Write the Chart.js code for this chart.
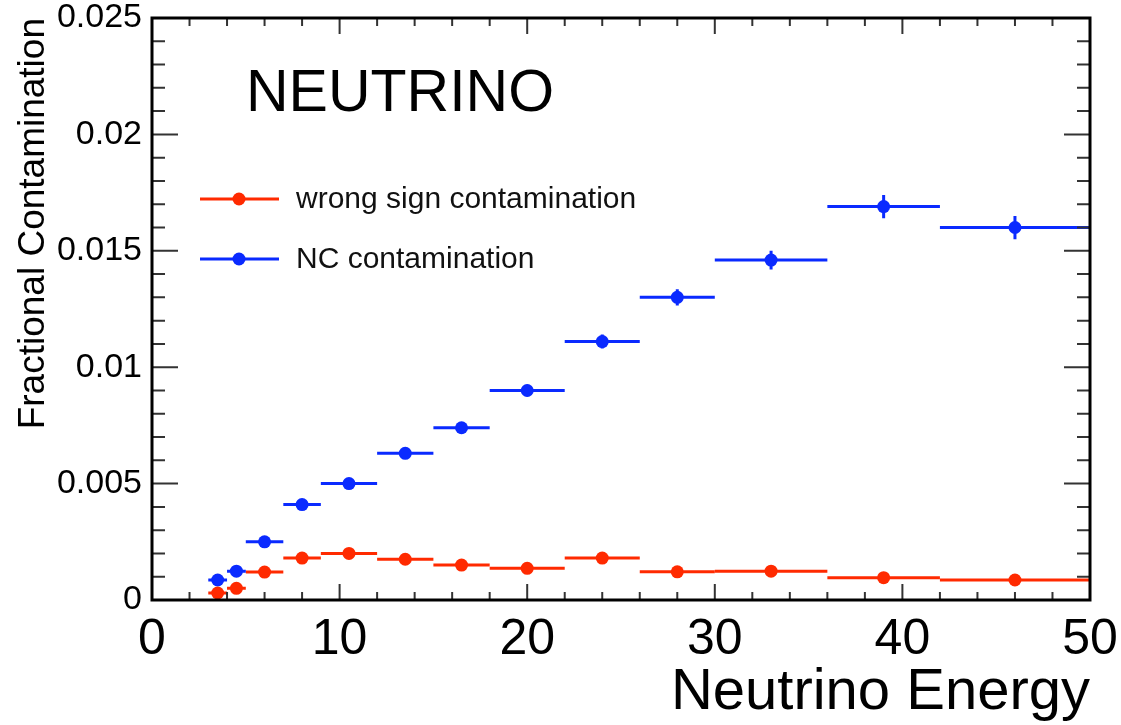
<!DOCTYPE html>
<html>
<head>
<meta charset="utf-8">
<script src="https://cdn.jsdelivr.net/npm/chart.js@4"></script>
<style>
  body { margin: 0; background: #fff; }
  #wrap { width: 1121px; height: 725px; }
</style>
</head>
<body>
<div id="wrap"><canvas id="plot" width="1121" height="725"></canvas></div>
<script>
// bins in neutrino energy
const binLow  = [3, 4, 5, 7, 9, 12, 15, 18, 22, 26, 30, 36, 42];
const binHigh = [4, 5, 7, 9, 12, 15, 18, 22, 26, 30, 36, 42, 50];
const binMid  = [3.5, 4.5, 6, 8, 10.5, 13.5, 16.5, 20, 24, 28, 33, 39, 46];

// wrong sign contamination
const wrongSign    = [0.0003, 0.0005, 0.0012, 0.0018, 0.0020, 0.00175, 0.0015, 0.00136, 0.0018, 0.00121, 0.00124, 0.00096, 0.00086];
const wrongSignErr = [0.0001, 0.0001, 0.0001, 0.0001, 0.0001, 0.0001, 0.0001, 0.0001, 0.0001, 0.0001, 0.0001, 0.0001, 0.0001];

// NC contamination
const ncCont    = [0.00086, 0.00124, 0.0025, 0.0041, 0.0050, 0.0063, 0.0074, 0.0090, 0.0111, 0.0130, 0.0146, 0.0169, 0.0160];
const ncContErr = [0.00015, 0.0002, 0.0002, 0.0002, 0.0002, 0.0002, 0.00025, 0.00025, 0.0003, 0.00035, 0.0004, 0.0005, 0.0005];

const FONT = "'Liberation Sans', Arial, Helvetica, sans-serif";
const RED = '#ff2a00';
const BLUE = '#0a2aff';

function points(vals) {
  return vals.map((v, i) => ({ x: binMid[i], y: v }));
}

// horizontal bin widths + vertical error bars
const errorBars = {
  id: 'errorBars',
  beforeDatasetsDraw(chart) {
    const ctx = chart.ctx;
    const xs = chart.scales.x, ys = chart.scales.y;
    const area = chart.chartArea;
    ctx.save();
    ctx.beginPath();
    ctx.rect(area.left, area.top, area.right - area.left, area.bottom - area.top);
    ctx.clip();
    chart.data.datasets.forEach(ds => {
      ctx.strokeStyle = ds.borderColor;
      ctx.lineWidth = 3;
      ds.data.forEach((p, i) => {
        const y = ys.getPixelForValue(p.y);
        ctx.beginPath();
        ctx.moveTo(xs.getPixelForValue(binLow[i]), y);
        ctx.lineTo(xs.getPixelForValue(binHigh[i]), y);
        const x = xs.getPixelForValue(p.x);
        ctx.moveTo(x, ys.getPixelForValue(p.y - ds.errs[i]));
        ctx.lineTo(x, ys.getPixelForValue(p.y + ds.errs[i]));
        ctx.stroke();
      });
    });
    ctx.restore();
  }
};

// ROOT style frame with ticks inside on all four sides
const frame = {
  id: 'frame',
  afterDraw(chart) {
    const ctx = chart.ctx;
    const xs = chart.scales.x, ys = chart.scales.y;
    const a = chart.chartArea;
    ctx.save();
    ctx.strokeStyle = '#333';
    ctx.lineWidth = 2;
    ctx.beginPath();
    for (let v = 0; v <= 50; v += 2) {
      const x = xs.getPixelForValue(v);
      const len = v % 10 === 0 ? 16 : 8;
      ctx.moveTo(x, a.bottom); ctx.lineTo(x, a.bottom - len);
      ctx.moveTo(x, a.top); ctx.lineTo(x, a.top + len);
    }
    for (let k = 0; k <= 25; k++) {
      const y = ys.getPixelForValue(k * 0.001);
      const len = k % 5 === 0 ? 26 : 13;
      ctx.moveTo(a.left, y); ctx.lineTo(a.left + len, y);
      ctx.moveTo(a.right, y); ctx.lineTo(a.right - len, y);
    }
    ctx.stroke();
    ctx.strokeStyle = '#000';
    ctx.lineWidth = 3;
    ctx.strokeRect(a.left, a.top, a.right - a.left, a.bottom - a.top);

    // label
    ctx.fillStyle = '#000';
    ctx.font = '59px ' + FONT;
    ctx.textBaseline = 'alphabetic';
    ctx.textAlign = 'left';
    ctx.fillText('NEUTRINO', 246, 111);

    // legend
    const rows = [199, 259];
    ctx.font = '30px ' + FONT;
    ctx.textBaseline = 'middle';
    chart.data.datasets.forEach((ds, i) => {
      const y = rows[i];
      ctx.strokeStyle = ds.borderColor;
      ctx.lineWidth = 3;
      ctx.beginPath();
      ctx.moveTo(200, y); ctx.lineTo(279, y);
      ctx.stroke();
      ctx.fillStyle = ds.backgroundColor;
      ctx.beginPath();
      ctx.arc(239, y, 6.5, 0, Math.PI * 2);
      ctx.fill();
      ctx.fillStyle = '#111';
      ctx.fillText(ds.label, 296, y + 1);
    });
    ctx.restore();
  }
};

new Chart(document.getElementById('plot'), {
  type: 'scatter',
  plugins: [errorBars, frame],
  data: {
    datasets: [
      {
        label: 'wrong sign contamination',
        data: points(wrongSign),
        errs: wrongSignErr,
        borderColor: RED,
        backgroundColor: RED,
        pointRadius: 6.5,
        pointBorderWidth: 0,
      },
      {
        label: 'NC contamination',
        data: points(ncCont),
        errs: ncContErr,
        borderColor: BLUE,
        backgroundColor: BLUE,
        pointRadius: 6.5,
        pointBorderWidth: 0,
      },
    ],
  },
  options: {
    responsive: false,
    animation: false,
    layout: { padding: { top: 18, right: 31, left: 0, bottom: 0 } },
    plugins: {
      legend: { display: false },
      tooltip: { enabled: false },
    },
    scales: {
      x: {
        type: 'linear',
        min: 0,
        max: 50,
        afterFit: s => { s.height = 125; s.paddingLeft = 0; s.paddingRight = 0; },
        grid: { display: false, drawTicks: false },
        border: { display: false },
        ticks: {
          stepSize: 10,
          padding: 10,
          color: '#000',
          font: { family: FONT, size: 50 },
          maxRotation: 0,
        },
        title: {
          display: true,
          text: 'Neutrino Energy',
          align: 'end',
          color: '#000',
          font: { family: FONT, size: 58, lineHeight: 1 },
          padding: { top: 0, bottom: 3 },
        },
      },
      y: {
        type: 'linear',
        min: 0,
        max: 0.025,
        afterFit: s => { s.width = 152; s.paddingTop = 0; s.paddingBottom = 0; },
        grid: { display: false, drawTicks: false },
        border: { display: false },
        ticks: {
          stepSize: 0.005,
          padding: 10,
          color: '#000',
          font: { family: FONT, size: 34 },
          callback: v => String(+v.toFixed(4)),
        },
        title: {
          display: true,
          text: 'Fractional Contamination',
          align: 'end',
          color: '#000',
          font: { family: FONT, size: 37, lineHeight: 1 },
          padding: { top: 15, bottom: 0 },
        },
      },
    },
  },
});
</script>
</body>
</html>
